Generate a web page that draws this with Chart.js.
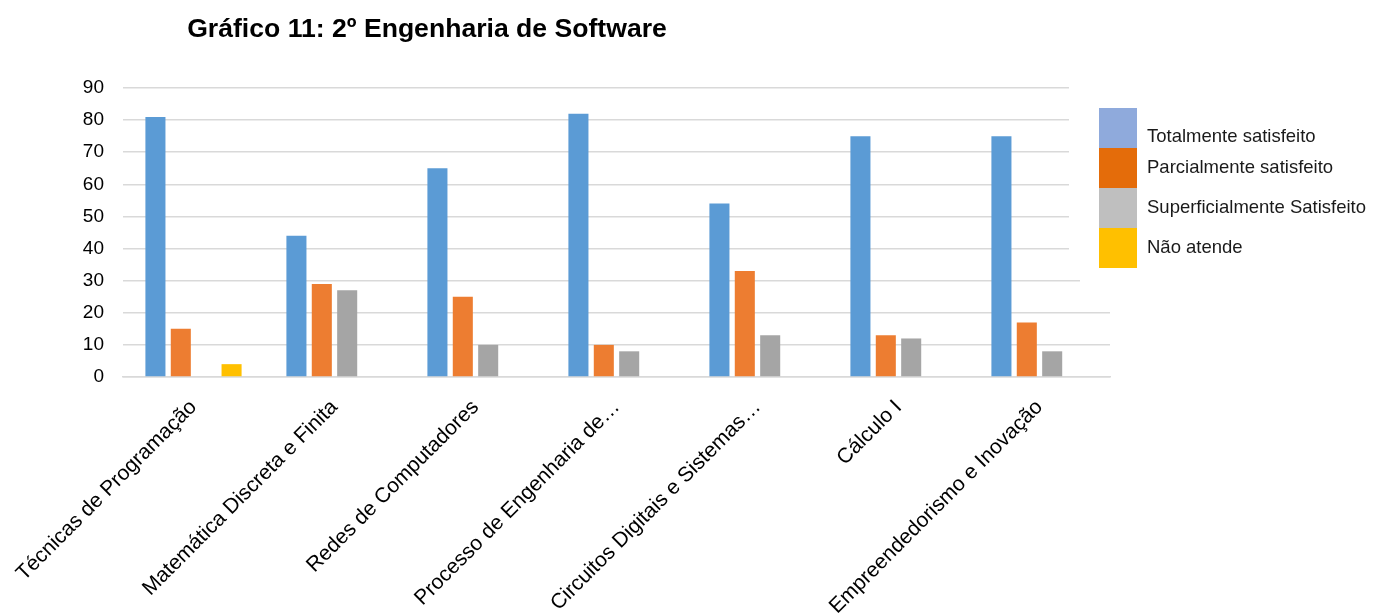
<!DOCTYPE html>
<html>
<head>
<meta charset="utf-8">
<title>Gráfico 11</title>
<script src="https://cdn.jsdelivr.net/npm/chart.js@4/dist/chart.umd.min.js"></script>
<style>
  html, body { margin: 0; padding: 0; background: #fff; }
  #wrap { width: 1373px; height: 615px; position: relative; }
</style>
</head>
<body>
<div id="wrap"><canvas id="chart"></canvas></div>
<script>
// dados do gráfico
const disciplinas = [
  "Técnicas de Programação",
  "Matemática Discreta e Finita",
  "Redes de Computadores",
  "Processo de Engenharia de…",
  "Circuitos Digitais e Sistemas…",
  "Cálculo I",
  "Empreendedorismo e Inovação"
];
const series = ["Totalmente satisfeito", "Parcialmente satisfeito", "Superficialmente Satisfeito", "Não atende"];
const totalmente = [81, 44, 65, 82, 54, 75, 75];
const parcialmente = [15, 29, 25, 10, 33, 13, 17];
const superficialmente = [0, 27, 10, 8, 13, 12, 8];
const naoAtende = [4, 0, 0, 0, 0, 0, 0];
const yTicks = [0, 10, 20, 30, 40, 50, 60, 70, 80, 90];

const barColors = ["#5B9BD5", "#ED7D31", "#A5A5A5", "#FFC000"];
const legendColors = ["#8FAADC", "#E46C0A", "#BFBFBF", "#FFC000"];
const FONT = "'Liberation Sans', Arial, sans-serif";

// title + odd stacked legend, drawn by hand
const extras = {
  id: "extras",
  afterDraw(chart) {
    const c = chart.ctx;
    c.save();
    // legend background hides the grid lines behind it
    c.fillStyle = "#fff";
    c.fillRect(1069, 80, 304, 195);
    c.fillRect(1080, 275, 293, 10);

    c.fillStyle = "#000";
    c.font = "bold 26.6px " + FONT;
    c.textAlign = "center";
    c.textBaseline = "middle";
    c.fillText("Gráfico 11: 2º Engenharia de Software", 427, 30);

    const textY = [137, 168, 208, 248];
    c.font = "18.5px " + FONT;
    c.textAlign = "left";
    chart.data.datasets.forEach((ds, i) => {
      c.fillStyle = legendColors[i];
      c.fillRect(1099, 108 + i * 40, 38, 40);
      c.fillStyle = "#1a1a1a";
      c.fillText(ds.label, 1147, textY[i]);
    });
    c.restore();
  }
};

const data = [totalmente, parcialmente, superficialmente, naoAtende];

new Chart(document.getElementById("chart"), {
  type: "bar",
  data: {
    labels: disciplinas,
    datasets: series.map((s, i) => ({
      label: s,
      data: data[i],
      backgroundColor: barColors[i],
      borderWidth: 0,
      categoryPercentage: 0.72,
      barPercentage: 0.79
    }))
  },
  options: {
    responsive: true,
    maintainAspectRatio: false,
    animation: false,
    layout: { padding: { left: 0, right: 263, top: 88, bottom: 0 } },
    plugins: {
      legend: { display: false },
      title: { display: false },
      tooltip: { enabled: false }
    },
    scales: {
      x: {
        grid: { display: false },
        border: { color: "#D9D9D9", width: 1.5 },
        ticks: {
          color: "#000",
          font: { family: FONT, size: 21 },
          minRotation: 45,
          maxRotation: 45,
          autoSkip: false,
          padding: 10
        },
        afterFit(scale) { scale.height = 238; }
      },
      y: {
        min: 0,
        max: 90,
        afterBuildTicks(scale) { scale.ticks = yTicks.map(v => ({ value: v })); },
        grid: { color: "#D9D9D9", lineWidth: 1.5, drawTicks: false },
        border: { display: false },
        ticks: {
          color: "#000",
          font: { family: FONT, size: 19 },
          padding: 19
        },
        afterFit(scale) { scale.width = 123; }
      }
    }
  },
  plugins: [extras]
});
</script>
</body>
</html>
